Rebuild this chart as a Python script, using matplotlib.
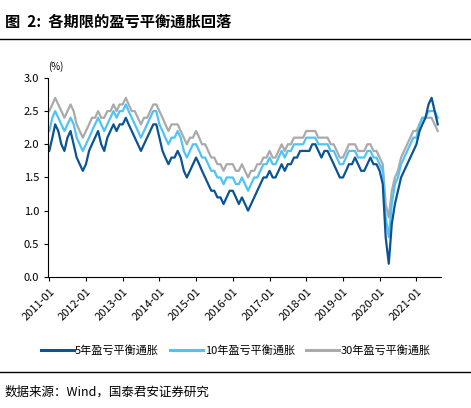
import matplotlib
matplotlib.use("Agg")
import matplotlib.pyplot as plt
import matplotlib.dates as mdates
import pandas as pd
from matplotlib.lines import Line2D

plt.rcParams['font.family'] = ['Noto Sans CJK SC', 'DejaVu Sans']

dates = pd.date_range("2011-01-01", periods=128, freq="MS")
s5 = [1.9,2.1,2.3,2.2,2.0,1.9,2.1,2.2,2.0,1.8,1.7,1.6,
      1.7,1.9,2.0,2.1,2.2,2.0,1.9,2.1,2.2,2.3,2.2,2.3,
      2.3,2.4,2.3,2.2,2.1,2.0,1.9,2.0,2.1,2.2,2.3,2.3,
      2.1,1.9,1.8,1.7,1.8,1.8,1.9,1.8,1.6,1.5,1.6,1.7,
      1.8,1.7,1.6,1.5,1.4,1.3,1.3,1.2,1.2,1.1,1.2,1.3,
      1.3,1.2,1.1,1.2,1.1,1.0,1.1,1.2,1.3,1.4,1.5,1.5,
      1.6,1.5,1.5,1.6,1.7,1.6,1.7,1.7,1.8,1.8,1.9,1.9,
      1.9,1.9,2.0,2.0,1.9,1.8,1.9,1.9,1.8,1.7,1.6,1.5,
      1.5,1.6,1.7,1.7,1.8,1.7,1.6,1.6,1.7,1.8,1.7,1.7,
      1.6,1.4,0.6,0.2,0.8,1.1,1.3,1.5,1.6,1.7,1.8,1.9,
      2.0,2.2,2.3,2.4,2.6,2.7,2.5,2.3]
s10 = [2.2,2.4,2.5,2.4,2.3,2.2,2.3,2.4,2.3,2.1,2.0,1.9,
       2.0,2.1,2.2,2.3,2.4,2.3,2.2,2.3,2.4,2.5,2.4,2.5,
       2.5,2.6,2.5,2.4,2.3,2.2,2.1,2.2,2.3,2.4,2.5,2.5,
       2.3,2.2,2.1,2.0,2.1,2.1,2.2,2.1,1.9,1.8,1.9,2.0,
       2.0,1.9,1.8,1.8,1.7,1.6,1.6,1.5,1.5,1.4,1.5,1.5,
       1.5,1.4,1.4,1.5,1.4,1.3,1.4,1.5,1.5,1.6,1.7,1.7,
       1.8,1.7,1.7,1.8,1.9,1.8,1.9,1.9,2.0,2.0,2.0,2.0,
       2.1,2.1,2.1,2.1,2.0,2.0,2.0,2.0,1.9,1.9,1.8,1.7,
       1.7,1.8,1.9,1.9,1.9,1.8,1.8,1.8,1.9,1.9,1.8,1.8,
       1.7,1.6,0.9,0.6,1.1,1.4,1.5,1.7,1.8,1.9,2.0,2.1,
       2.1,2.3,2.4,2.4,2.5,2.5,2.5,2.4]
s30 = [2.5,2.6,2.7,2.6,2.5,2.4,2.5,2.6,2.5,2.3,2.2,2.1,
       2.2,2.3,2.4,2.4,2.5,2.4,2.4,2.5,2.5,2.6,2.5,2.6,
       2.6,2.7,2.6,2.5,2.5,2.4,2.3,2.4,2.4,2.5,2.6,2.6,
       2.5,2.4,2.3,2.2,2.3,2.3,2.3,2.2,2.1,2.0,2.1,2.1,
       2.2,2.1,2.0,2.0,1.9,1.8,1.8,1.7,1.7,1.6,1.7,1.7,
       1.7,1.6,1.6,1.7,1.6,1.5,1.6,1.6,1.7,1.7,1.8,1.8,
       1.9,1.8,1.8,1.9,2.0,1.9,2.0,2.0,2.1,2.1,2.1,2.1,
       2.2,2.2,2.2,2.2,2.1,2.1,2.1,2.1,2.0,2.0,1.9,1.8,
       1.8,1.9,2.0,2.0,2.0,1.9,1.9,1.9,2.0,2.0,1.9,1.9,
       1.8,1.7,1.1,0.9,1.3,1.5,1.6,1.8,1.9,2.0,2.1,2.2,
       2.2,2.3,2.4,2.4,2.4,2.4,2.3,2.2]

c5, c10, c30 = '#0b5394', '#4fc3f7', '#aaaaaa'
fig = plt.figure(figsize=(4.71, 4.08), dpi=100)
ax = fig.add_axes([0.102, 0.321, 0.834, 0.488])
ax.plot(dates, s30, color=c30, lw=1.6)
ax.plot(dates, s10, color=c10, lw=1.6)
ax.plot(dates, s5, color=c5, lw=1.6)
ax.set_ylim(0, 3.0)
ax.set_xlim(pd.Timestamp("2010-12-20"), pd.Timestamp("2021-09-01"))
ax.set_yticks([0, 0.5, 1.0, 1.5, 2.0, 2.5, 3.0])
ax.yaxis.set_major_formatter(matplotlib.ticker.FormatStrFormatter('%.1f'))
ax.xaxis.set_major_locator(mdates.YearLocator())
ax.xaxis.set_major_formatter(mdates.DateFormatter('%Y-%m'))
for s in ['top', 'right']:
    ax.spines[s].set_visible(False)
ax.tick_params(labelsize=8, length=3)
plt.setp(ax.get_xticklabels(), rotation=45, ha='right', rotation_mode='anchor')
ax.text(-0.0, 1.04, '(%)', transform=ax.transAxes, fontsize=7)
fig.text(0.01, 0.935, '图  2:  各期限的盈亏平衡通胀回落', fontsize=11, fontweight='bold')
fig.add_artist(Line2D([0, 1], [0.905, 0.905], color='black', lw=1))
fig.add_artist(Line2D([0, 1], [0.088, 0.088], color='black', lw=1))
fig.text(0.01, 0.03, '数据来源：Wind，国泰君安证券研究', fontsize=9)
h = [Line2D([], [], color=c, lw=2.2) for c in (c5, c10, c30)]
fig.legend(h, ['5年盈亏平衡通胀', '10年盈亏平衡通胀', '30年盈亏平衡通胀'],
           loc='center', bbox_to_anchor=(0.5, 0.14), ncol=3, frameon=False,
           fontsize=8, handlelength=3, handletextpad=0.1, columnspacing=1.0)
fig.savefig('out.png', dpi=100)
